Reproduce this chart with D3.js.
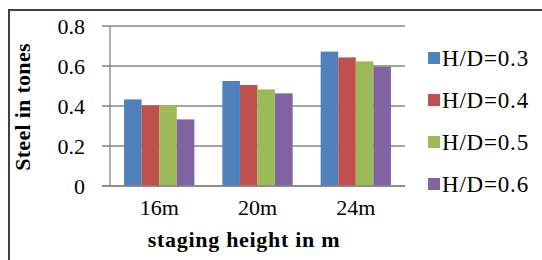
<!DOCTYPE html>
<html>
<head>
<meta charset="utf-8">
<script src="https://cdn.jsdelivr.net/npm/d3@7"></script>
<style>
body { margin: 0; background: #fff; }
</style>
</head>
<body>
<div id="chart"></div>
<script>
var width = 542,
height = 260;

// data
var categories = ["16m", "20m", "24m"];
var series = ["H/D=0.3", "H/D=0.4", "H/D=0.5", "H/D=0.6"];
var values = [
    [0.433, 0.525, 0.672],
    [0.403, 0.505, 0.643],
    [0.403, 0.483, 0.623],
    [0.333, 0.463, 0.597]
];
var yTicks = [0, 0.2, 0.4, 0.6, 0.8];
var colors = ["#4F81BD", "#C0504D", "#9BBB59", "#8064A2"];

var svg = d3.select('#chart').append('svg')
    .attr('width', width)
    .attr('height', height)
    .attr('font-family', 'Liberation Serif, Times New Roman, serif');

// outer frame
svg.append('rect')
    .attr('x', 9).attr('y', 10)
    .attr('width', 560).attr('height', 270)
    .attr('fill', 'none')
    .attr('stroke', '#404040')
    .attr('stroke-width', 2);

var plotL = 110, plotR = 405, plotT = 26, plotB = 186;

let scaleX = d3.scaleBand().domain(categories).range([plotL, plotR]).paddingInner(0.285).paddingOuter(0.143);
let scaleS = d3.scaleBand().domain(series).range([0, scaleX.bandwidth()]);
let scaleY = d3.scaleLinear().domain([0, 0.8]).range([plotB, plotT]);

// gridlines + y axis
var grid = svg.append('g');
grid.selectAll('line').data(yTicks).enter().append('line')
    .attr('x1', plotL - 8).attr('x2', plotR)
    .attr('y1', d => scaleY(d)).attr('y2', d => scaleY(d))
    .attr('stroke', '#868686').attr('stroke-width', 1.3);
grid.append('line')
    .attr('x1', plotL).attr('x2', plotL)
    .attr('y1', plotT).attr('y2', plotB)
    .attr('stroke', '#868686').attr('stroke-width', 1.3);

svg.append('g').selectAll('text').data(yTicks).enter().append('text')
    .attr('x', 85).attr('y', d => scaleY(d))
    .attr('dy', '0.35em')
    .attr('text-anchor', 'end')
    .attr('font-size', 22)
    .text(d => d === 0 ? "0" : d3.format('.1f')(d));

// bars
var groups = svg.append('g').selectAll('g').data(series).enter().append('g')
    .attr('fill', (d, i) => colors[i]);
groups.selectAll('rect').data((s, i) => values[i].map((v, j) => ({s: s, c: categories[j], v: v})))
    .enter().append('rect')
    .attr('x', d => scaleX(d.c) + scaleS(d.s))
    .attr('width', scaleS.bandwidth())
    .attr('y', d => scaleY(d.v))
    .attr('height', d => scaleY(0) - scaleY(d.v));

// redraw baseline over the bars
svg.append('line')
    .attr('x1', plotL - 8).attr('x2', plotR)
    .attr('y1', plotB).attr('y2', plotB)
    .attr('stroke', '#868686').attr('stroke-width', 1.3);

// x tick labels
svg.append('g').selectAll('text').data(categories).enter().append('text')
    .attr('x', d => scaleX(d) + scaleX.bandwidth() / 2)
    .attr('y', 215)
    .attr('text-anchor', 'middle')
    .attr('font-size', 22)
    .text(d => d);

// axis titles
svg.append('text')
    .attr('x', 244).attr('y', 247)
    .attr('text-anchor', 'middle')
    .attr('font-size', 22).attr('font-weight', 'bold')
    .attr('letter-spacing', 0.7)
    .text('staging height in m');

svg.append('text')
    .attr('transform', 'translate(22,107) rotate(-90)')
    .attr('dy', '0.35em')
    .attr('text-anchor', 'middle')
    .attr('font-size', 22).attr('font-weight', 'bold')
    .attr('letter-spacing', 0.3)
    .text('Steel in tones');

// legend
var legend = svg.append('g').attr('class', 'legend');
var lg = legend.selectAll('g').data(series).enter().append('g')
    .attr('transform', (d, i) => 'translate(428,' + (58 + 42 * i) + ')');
lg.append('rect')
    .attr('x', 0).attr('y', -6).attr('width', 12).attr('height', 12)
    .attr('fill', (d, i) => colors[i]);
lg.append('text')
    .attr('x', 14).attr('dy', '0.35em')
    .attr('font-size', 23)
    .attr('letter-spacing', 0.8)
    .text(d => d);
</script>
</body>
</html>
